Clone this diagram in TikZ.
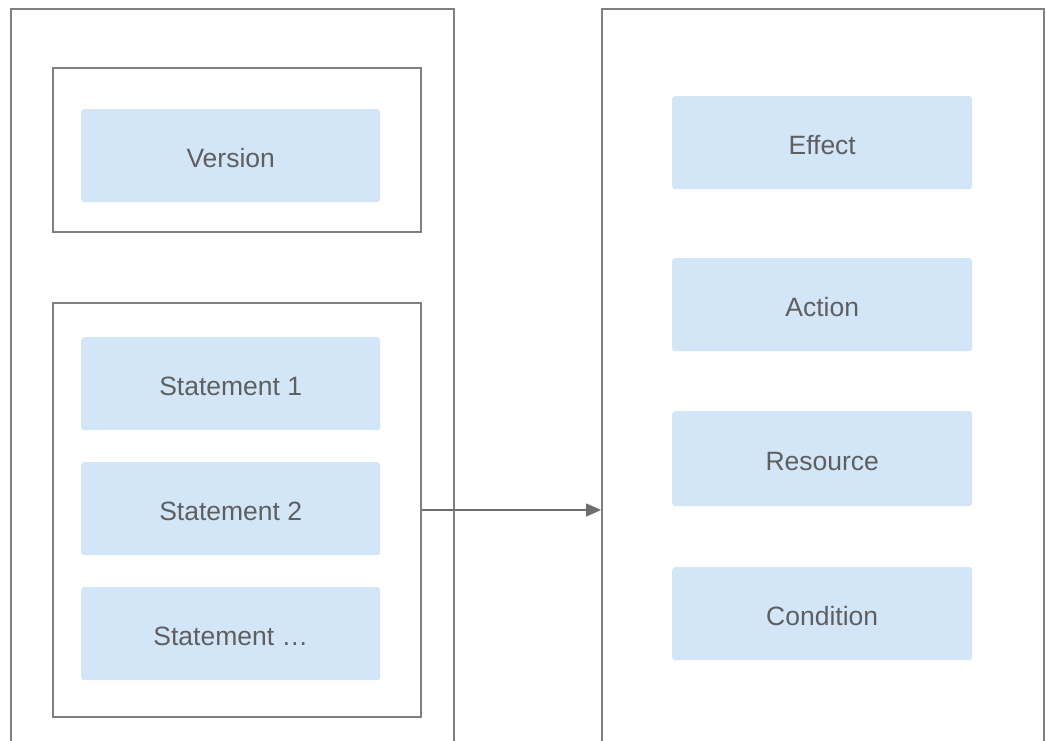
\documentclass[tikz,border=0pt]{standalone}
\usepackage{fontspec}
\setmainfont{Liberation Sans}
\usetikzlibrary{arrows.meta}
\definecolor{framegray}{HTML}{808080}
\definecolor{boxblue}{HTML}{D3E6F8}
\definecolor{txtgray}{HTML}{5F5F5F}
\definecolor{arrowgray}{HTML}{6E6E6E}
\tikzset{
  frame/.style={draw=framegray, line width=2pt, fill=none, inner sep=0pt, anchor=north west},
  bluebox/.style={fill=boxblue, rounded corners=3pt, minimum width=299pt, minimum height=93pt, inner sep=0pt, anchor=north west, text=txtgray, font=\fontsize{26.5}{30}\selectfont, text height=23pt, text depth=0pt},
  link/.style={draw=arrowgray, line width=1.5pt, -{Triangle[length=15pt,width=13pt]}}
}
\begin{document}
\begin{tikzpicture}[x=1pt,y=-1pt]
\useasboundingbox (0,0) rectangle (1046,740);
\clip (0,0) rectangle (1046,740);
\fill[white] (0,0) rectangle (1046,740);
% outer frames
\node[frame, minimum width=443pt, minimum height=780pt] (leftframe) at (10,8) {};
\node[frame, minimum width=442pt, minimum height=780pt] (rightframe) at (601,8) {};
% inner frames
\node[frame, minimum width=368pt, minimum height=164pt] (verframe) at (52,67) {};
\node[frame, minimum width=368pt, minimum height=414pt] (stmframe) at (52,302) {};
% left boxes
\node[bluebox] (version) at (81,109) {Version};
\node[bluebox] (stmt1) at (81,337) {Statement 1};
\node[bluebox] (stmt2) at (81,462) {Statement 2};
\node[bluebox] (stmt3) at (81,587) {Statement \ldots};
% right boxes
\node[bluebox, minimum width=300pt] (effect) at (672,96) {Effect};
\node[bluebox, minimum width=300pt] (action) at (672,258) {Action};
\node[bluebox, minimum width=300pt, minimum height=95pt] (resource) at (672,411) {Resource};
\node[bluebox, minimum width=300pt] (condition) at (672,567) {Condition};
% arrow
\draw[link] (stmframe.east) -- (stmframe.east -| rightframe.west);
\end{tikzpicture}
\end{document}
